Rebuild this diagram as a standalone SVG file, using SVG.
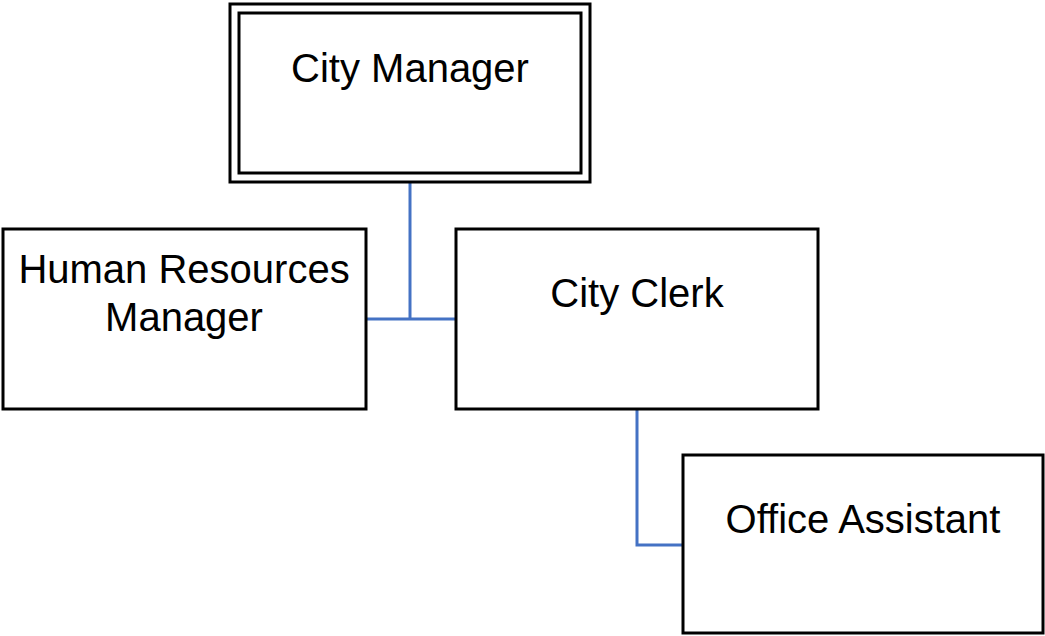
<svg xmlns="http://www.w3.org/2000/svg" width="1045" height="636" viewBox="0 0 1045 636">
  <style>
    .box { fill: #ffffff; stroke: #000000; stroke-width: 3; }
    .label { font-family: "Liberation Sans", Arial, sans-serif; font-size: 40px; fill: #000000; text-anchor: middle; }
    .link { fill: none; stroke: #4472C4; stroke-width: 3; }
  </style>
  <rect width="1045" height="636" fill="#ffffff"/>

  <!-- reporting lines -->
  <g id="connectors">
    <path class="link" d="M410,182 V319"/>
    <path class="link" d="M366,319 H456"/>
    <path class="link" d="M637,409 V545 H683"/>
  </g>

  <g id="city-manager">
    <rect class="box" x="230" y="4" width="360" height="178"/>
    <rect class="box" x="239" y="13" width="342" height="160"/>
    <text class="label" x="410" y="82">City Manager</text>
  </g>

  <g id="hr-manager">
    <rect class="box" x="3" y="229" width="363" height="180"/>
    <text class="label" x="184" y="283">Human Resources</text>
    <text class="label" x="184" y="331">Manager</text>
  </g>

  <g id="city-clerk">
    <rect class="box" x="456" y="229" width="362" height="180"/>
    <text class="label" x="637" y="307">City Clerk</text>
  </g>

  <g id="office-assistant">
    <rect class="box" x="683" y="455" width="360" height="178"/>
    <text class="label" x="863" y="533">Office Assistant</text>
  </g>
</svg>
